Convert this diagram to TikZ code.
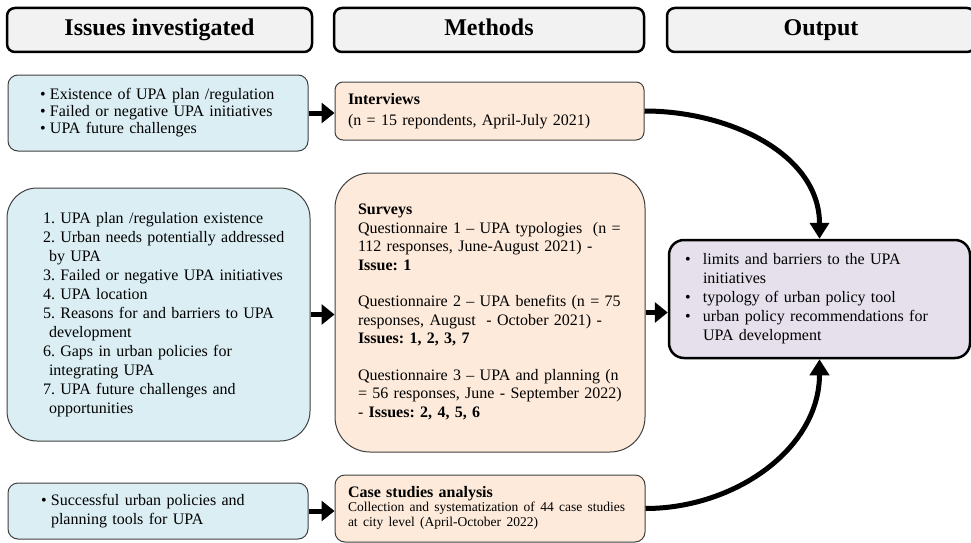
\documentclass[tikz,border=0pt]{standalone}
\usepackage{fontspec}
\setmainfont{Liberation Serif}
\usetikzlibrary{arrows.meta}
\definecolor{headfill}{HTML}{F2F2F2}
\definecolor{issuefill}{HTML}{DBEEF4}
\definecolor{methodfill}{HTML}{FDEADA}
\definecolor{outputfill}{HTML}{E5E0EC}
\definecolor{boxline}{HTML}{404040}
\newcommand\bul[1]{\makebox[#1][l]{•}}
\frenchspacing
\begin{document}
\begin{tikzpicture}[x=1pt,y=-1pt,
		headbox/.style={draw,line width=2.5pt,rounded corners=8pt,fill=headfill,inner sep=0pt,minimum height=44pt,text height=17pt,text depth=5pt,font=\fontsize{24}{28}\selectfont\bfseries},
		issuebox/.style={draw=boxline,line width=1pt,fill=issuefill,inner ysep=0pt,align=left,font=\fontsize{16}{19}\selectfont},
		methodbox/.style={draw=boxline,line width=1pt,fill=methodfill,inner ysep=0pt,align=left,font=\fontsize{16}{18.4}\selectfont},
		outbox/.style={draw,line width=2.5pt,fill=outputfill,inner ysep=0pt,align=left,font=\fontsize{16}{19}\selectfont},
		flow/.style={line width=5pt,-{Triangle[length=13pt,width=20pt]}},
		curvearrow/.style={line width=5pt,-{Triangle[length=16pt,width=19pt]}}]
		\useasboundingbox ( 0, 0 ) rectangle ( 971, 543 );

		% headers
		\node [headbox,minimum width=305pt] (hissues) at ( 159.5, 30 ) {Issues investigated};
		\node [headbox,minimum width=310pt] (hmethods) at ( 489, 30 ) {Methods};
		\node [headbox,minimum width=308pt] (houtput) at ( 821, 30 ) {Output};

		% issues
		\node [issuebox,rounded corners=10pt,inner xsep=32pt,text width=236pt,minimum height=76pt,font=\fontsize{16}{17}\selectfont] (issue1) at ( 158, 113 ) {\begin{tabular}{@{}l@{}}
			\bul{10pt}Existence of UPA plan /regulation\\
			\bul{10pt}Failed or negative UPA initiatives\\
			\bul{10pt}UPA future challenges
		\end{tabular}};
		\node [issuebox,rounded corners=30pt,inner xsep=36pt,text width=231pt,minimum height=253pt] (issue2) at ( 158.5, 314.5 ) {\begin{tabular}{@{}l@{}}
			1. UPA plan /regulation existence\\
			2. Urban needs potentially addressed\\
			\hspace*{6pt}by UPA\\
			3. Failed or negative UPA initiatives\\
			4. UPA location\\
			5. Reasons for and barriers to UPA\\
			\hspace*{6pt}development\\
			6. Gaps in urban policies for\\
			\hspace*{6pt}integrating UPA\\
			7. UPA future challenges and\\
			\hspace*{6pt}opportunities
		\end{tabular}};
		\node [issuebox,rounded corners=10pt,inner xsep=33pt,text width=234pt,minimum height=56pt] (issue3) at ( 158, 511 ) {\begin{tabular}{@{}l@{}}
			\bul{10pt}Successful urban policies and\\
			\hspace*{10pt}planning tools for UPA
		\end{tabular}};

		% methods
		\node [methodbox,rounded corners=8pt,inner xsep=13pt,text width=283pt,minimum height=58pt,font=\fontsize{16}{21}\selectfont] (interviews) at ( 489.5, 111 ) {\begin{tabular}{@{}l@{}}
			\textbf{Interviews}\\
			(n = 15 repondents, April-July 2021)
		\end{tabular}};
		\node [methodbox,rounded corners=35pt,inner xsep=23pt,text width=264pt,minimum height=279pt] (surveys) at ( 490, 312.5 ) {\begin{tabular}{@{}l@{}}
			\textbf{Surveys}\\
			Questionnaire 1 -- UPA typologies\ \ (n =\\
			112 responses, June-August 2021) -\\
			\textbf{Issue: 1}\\
			\\
			Questionnaire 2 -- UPA benefits (n = 75\\
			responses, August\ \ - October 2021) -\\
			\textbf{Issues: 1, 2, 3, 7}\\
			\\
			Questionnaire 3 -- UPA and planning (n\\
			= 56 responses, June - September 2022)\\
			- \textbf{Issues: 2, 4, 5, 6}
		\end{tabular}};
		\node [methodbox,rounded corners=10pt,inner xsep=13pt,text width=284pt,minimum height=67pt,font=\fontsize{16}{14.5}\selectfont] (cases) at ( 490, 508.5 ) {\begin{tabular}{@{}l@{}}
			\textbf{Case studies analysis}\\
			\fontsize{13.5}{14.5}\selectfont Collection and systematization of 44 case studies\\
			\fontsize{13.5}{14.5}\selectfont at city level (April-October 2022)
		\end{tabular}};

		% output
		\node [outbox,rounded corners=15pt,inner xsep=16pt,text width=269pt,minimum height=118pt] (output) at ( 819.5, 299 ) {\begin{tabular}{@{}l@{}}
			\bul{18pt}limits and barriers to the UPA\\
			\hspace*{18pt}initiatives\\
			\bul{18pt}typology of urban policy tool\\
			\bul{18pt}urban policy recommendations for\\
			\hspace*{18pt}UPA development
		\end{tabular}};

		% arrows
		\draw [flow] (issue1.east) -- (issue1.east -| interviews.west);
		\draw [flow] (issue2.east) -- (issue2.east -| surveys.west);
		\draw [flow] (issue3.east) -- (issue3.east -| cases.west);
		\draw [flow] (surveys.east) -- (surveys.east -| output.west);
		\draw [curvearrow] (interviews.east) to [out=0, in=90] (output.north);
		\draw [curvearrow] (cases.east) to [out=0, in=-90] (output.south);
	\end{tikzpicture}
\end{document}
